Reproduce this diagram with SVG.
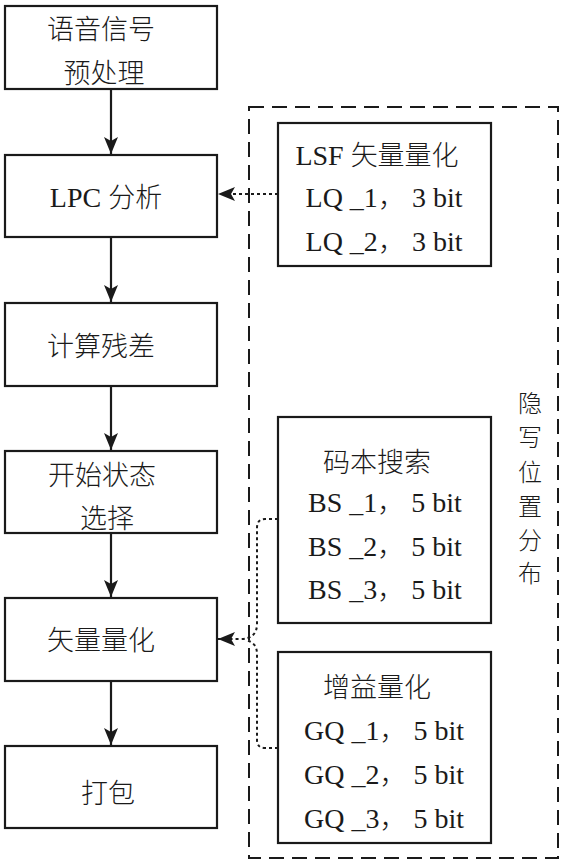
<svg xmlns="http://www.w3.org/2000/svg" width="564" height="863" viewBox="0 0 564 863">
<style>
.box{fill:#fff;stroke:#1a1a1a;stroke-width:2.2}
.cn{font-family:"Noto Sans CJK SC","Liberation Serif",sans-serif;font-size:27px;fill:#1a1a1a;font-weight:300}
.vt{font-family:"Noto Sans CJK SC",sans-serif;font-size:24px;fill:#1a1a1a;font-weight:300}
.mx{font-family:"Liberation Serif","Noto Sans CJK SC",serif;font-size:28px;fill:#1a1a1a}
.flow{stroke:#1a1a1a;stroke-width:2.2;fill:none}
.dot{stroke:#1a1a1a;stroke-width:2;fill:none;stroke-dasharray:3 3}
.dash{stroke:#1a1a1a;stroke-width:2;fill:none;stroke-dasharray:15 8}
</style>
<defs>
<marker id="ah" markerUnits="userSpaceOnUse" markerWidth="18" markerHeight="16" refX="17" refY="8" orient="auto">
<path d="M0,1 L17,8 L0,15 L4,8 Z" fill="#1a1a1a"/>
</marker>
</defs>
<rect width="564" height="863" fill="#fff"/>
<g id="hidden-region">
<rect class="dash" x="249" y="107" width="309" height="751"/>
<text class="vt" x="530" y="412" text-anchor="middle">隐</text>
<text class="vt" x="530" y="446" text-anchor="middle">写</text>
<text class="vt" x="530" y="481" text-anchor="middle">位</text>
<text class="vt" x="530" y="515" text-anchor="middle">置</text>
<text class="vt" x="530" y="549" text-anchor="middle">分</text>
<text class="vt" x="530" y="582" text-anchor="middle">布</text>
</g>
<g id="n1"><rect class="box" x="5" y="6" width="212" height="83"/>
<text class="cn" x="101" y="39" text-anchor="middle">语音信号</text>
<text class="cn" x="104" y="83" text-anchor="middle">预处理</text></g>
<g id="n2"><rect class="box" x="5" y="155" width="212" height="82"/>
<text class="mx" x="106" y="207" text-anchor="middle">LPC <tspan class="cn">分析</tspan></text></g>
<g id="n3"><rect class="box" x="5" y="303" width="212" height="83"/>
<text class="cn" x="101" y="356" text-anchor="middle">计算残差</text></g>
<g id="n4"><rect class="box" x="5" y="451" width="212" height="82"/>
<text class="cn" x="102" y="485" text-anchor="middle">开始状态</text>
<text class="cn" x="107" y="528" text-anchor="middle">选择</text></g>
<g id="n5"><rect class="box" x="5" y="598" width="212" height="83"/>
<text class="cn" x="101" y="650" text-anchor="middle">矢量量化</text></g>
<g id="n6"><rect class="box" x="5" y="746" width="212" height="82"/>
<text class="cn" x="108" y="803" text-anchor="middle">打包</text></g>
<g id="lsf"><rect class="box" x="278" y="123" width="213" height="143"/>
<text class="mx" x="377" y="165" text-anchor="middle">LSF <tspan class="cn">矢量量化</tspan></text>
<text class="mx" x="384" y="207" text-anchor="middle">LQ _1<tspan class="cn">，</tspan><tspan dx="7">3 bit</tspan></text>
<text class="mx" x="384" y="251" text-anchor="middle">LQ _2<tspan class="cn">，</tspan><tspan dx="7">3 bit</tspan></text></g>
<g id="bs"><rect class="box" x="278" y="417" width="213" height="206"/>
<text class="cn" x="377" y="472" text-anchor="middle">码本搜索</text>
<text class="mx" x="385" y="512" text-anchor="middle">BS _1<tspan class="cn">，</tspan><tspan dx="7">5 bit</tspan></text>
<text class="mx" x="385" y="556" text-anchor="middle">BS _2<tspan class="cn">，</tspan><tspan dx="7">5 bit</tspan></text>
<text class="mx" x="385" y="599" text-anchor="middle">BS _3<tspan class="cn">，</tspan><tspan dx="7">5 bit</tspan></text></g>
<g id="gq"><rect class="box" x="278" y="652" width="213" height="191"/>
<text class="cn" x="377" y="697" text-anchor="middle">增益量化</text>
<text class="mx" x="384" y="740" text-anchor="middle">GQ _1<tspan class="cn">，</tspan><tspan dx="7">5 bit</tspan></text>
<text class="mx" x="384" y="784" text-anchor="middle">GQ _2<tspan class="cn">，</tspan><tspan dx="7">5 bit</tspan></text>
<text class="mx" x="384" y="828" text-anchor="middle">GQ _3<tspan class="cn">，</tspan><tspan dx="7">5 bit</tspan></text></g>
<g id="connectors">
<line class="flow" x1="111" y1="89" x2="111" y2="154" marker-end="url(#ah)"/>
<line class="flow" x1="111" y1="237" x2="111" y2="302" marker-end="url(#ah)"/>
<line class="flow" x1="111" y1="386" x2="111" y2="450" marker-end="url(#ah)"/>
<line class="flow" x1="111" y1="533" x2="111" y2="597" marker-end="url(#ah)"/>
<line class="flow" x1="111" y1="681" x2="111" y2="745" marker-end="url(#ah)"/>
<line class="dot" x1="278" y1="194" x2="218" y2="194" marker-end="url(#ah)"/>
<path class="dot" d="M278,519 L265,519 Q257,519 257,528 L257,624 Q257,639 240,639 L218,639" marker-end="url(#ah)"/>
<path class="dot" d="M278,748 L265,748 Q257,748 257,740 L257,654 Q257,642 245,640"/>
</g>
</svg>
